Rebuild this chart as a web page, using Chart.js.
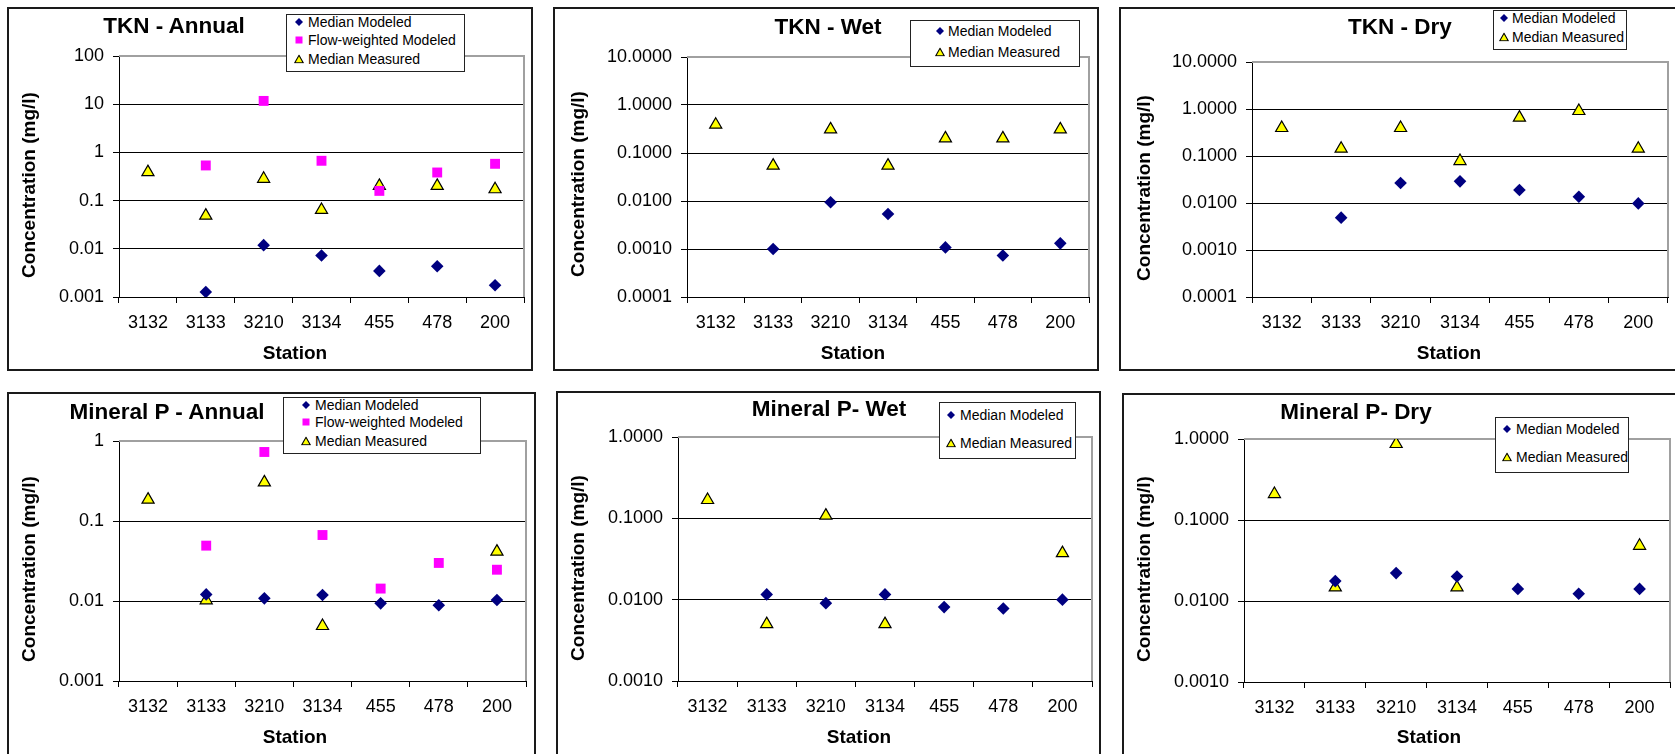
<!DOCTYPE html>
<html>
<head>
<meta charset="utf-8">
<title>TKN and Mineral P concentrations by station</title>
<script src="https://cdn.jsdelivr.net/npm/chart.js@4.4.1/dist/chart.umd.min.js"></script>
<style>
  html, body { margin: 0; padding: 0; background: #fff; overflow: hidden; }
  body { width: 1675px; height: 754px; position: relative; font-family: 'Liberation Sans', Arial, sans-serif; color: #000; }
  .frame { position: absolute; box-sizing: border-box; border: 2px solid #1a1a1a; }
  .plot { position: absolute; }
  .title { position: absolute; font-weight: bold; font-size: 22.5px; line-height: 1; white-space: nowrap; transform: translate(-50%, -50%); }
  .xtitle { position: absolute; font-weight: bold; font-size: 19px; line-height: 1; white-space: nowrap; transform: translate(-50%, -50%); }
  .ytitle { position: absolute; font-weight: bold; font-size: 19px; line-height: 1; white-space: nowrap; transform: translate(-50%, -50%) rotate(-90deg); }
  .legend { position: absolute; box-sizing: border-box; border: 1.5px solid #222; background: #fff; }
  .item { position: absolute; font-size: 14px; line-height: 1; white-space: nowrap; transform: translateY(-50%); }
  .mark { position: absolute; transform: translate(-50%, -50%); line-height: 0; }
</style>
</head>
<body>
<script>
// stations on the x axis
const stations = ['3132', '3133', '3210', '3134', '455', '478', '200'];

// TKN (mg/l)
const tknAnnualModeled = [null, 0.00127, 0.0119, 0.00726, 0.00348, 0.00436, 0.00175];
const tknAnnualFlowWeighted = [null, 0.536, 11.7, 0.67, 0.159, 0.383, 0.58];
const tknAnnualMeasured = [0.39, 0.0487, 0.283, 0.064, 0.202, 0.202, 0.172];
const tknWetModeled = [null, 0.001, 0.0094, 0.00536, 0.00108, 0.00073, 0.00131];
const tknWetMeasured = [0.389, 0.0545, 0.311, 0.0545, 0.202, 0.202, 0.311];
const tknDryModeled = [null, 0.00488, 0.0267, 0.0289, 0.0189, 0.0136, 0.0098];
const tknDryMeasured = [0.394, 0.143, 0.394, 0.078, 0.654, 0.906, 0.143];

// Mineral P (mg/l)
const minPAnnualModeled = [null, 0.0121, 0.0108, 0.0119, 0.00935, 0.00883, 0.0103];
const minPAnnualFlowWeighted = [null, 0.0492, 0.729, 0.0668, 0.0143, 0.0299, 0.0246];
const minPAnnualMeasured = [0.185, 0.0102, 0.304, 0.00487, null, null, 0.0414];
const minPWetModeled = [null, 0.0116, 0.00906, 0.0116, 0.0081, 0.0078, 0.01];
const minPWetMeasured = [0.168, 0.005, 0.108, 0.005, null, null, 0.0373];
const minPDryModeled = [null, 0.0176, 0.0221, 0.0201, 0.0141, 0.0123, 0.0141];
const minPDryMeasured = [0.209, 0.0147, 0.867, 0.0147, null, null, 0.048];

// y axis ticks (top to bottom) and their labels
const tknAnnualTicks = [100, 10, 1, 0.1, 0.01, 0.001];
const tknAnnualTickLabels = ['100', '10', '1', '0.1', '0.01', '0.001'];
const tknSeasonTicks = [10, 1, 0.1, 0.01, 0.001, 0.0001];
const tknSeasonTickLabels = ['10.0000', '1.0000', '0.1000', '0.0100', '0.0010', '0.0001'];
const minPAnnualTicks = [1, 0.1, 0.01, 0.001];
const minPAnnualTickLabels = ['1', '0.1', '0.01', '0.001'];
const minPSeasonTicks = [1, 0.1, 0.01, 0.001];
const minPSeasonTickLabels = ['1.0000', '0.1000', '0.0100', '0.0010'];

const yAxisTitle = 'Concentration (mg/l)';
const xAxisTitle = 'Station';

Chart.defaults.font.family = "'Liberation Sans', Arial, sans-serif";

const styles = {
  modeled: {pointStyle: 'rectRot', pointRadius: 6.3, pointBackgroundColor: '#000080', pointBorderColor: '#000080', pointBorderWidth: 0},
  flow: {pointStyle: 'rect', pointRadius: 7, pointBackgroundColor: '#ff00ff', pointBorderColor: '#ff00ff', pointBorderWidth: 0},
  measured: {pointStyle: 'triangle', pointRadius: 7, pointBackgroundColor: '#ffff00', pointBorderColor: '#000', pointBorderWidth: 1.2}
}

const marks = {
  modeled: '<svg width="9" height="9"><polygon points="4.5,0.5 8.5,4.5 4.5,8.5 0.5,4.5" fill="#000080"/></svg>',
  flow: '<svg width="8" height="8"><rect x="0.5" y="0.5" width="7" height="7" fill="#ff00ff"/></svg>',
  measured: '<svg width="10" height="9"><polygon points="5,0.8 9.2,8.2 0.8,8.2" fill="#ffff00" stroke="#000" stroke-width="1.1"/></svg>'
}

// gray plot border on top and right side, like the spreadsheet chart
const plotFrame = {
  id: 'plotFrame',
  beforeDatasetsDraw(chart) {
    const {ctx, chartArea: {left, top, right, bottom}} = chart;
    ctx.save();
    ctx.strokeStyle = '#a0a0a0';
    ctx.lineWidth = 2;
    ctx.beginPath();
    ctx.moveTo(left, top);
    ctx.lineTo(right, top);
    ctx.lineTo(right, bottom);
    ctx.stroke();
    ctx.restore();
  }
}

const panels = [
  {
    title: 'TKN - Annual', titleAt: [174, 26],
    frame: [7, 7, 533, 371], plot: [119, 56, 524, 297],
    yTitleAt: [28, 185], xTitleAt: [295, 352],
    ticks: tknAnnualTicks, tickLabels: tknAnnualTickLabels,
    series: [['Median Modeled', tknAnnualModeled, 'modeled'], ['Flow-weighted Modeled', tknAnnualFlowWeighted, 'flow'], ['Median Measured', tknAnnualMeasured, 'measured']],
    legendBox: [286, 14, 465, 72], legendMarkX: 299, legendTextX: 308, legendRows: [22, 40, 59]
  },
  {
    title: 'TKN - Wet', titleAt: [828, 27],
    frame: [553, 7, 1099, 371], plot: [687, 57, 1089, 297],
    yTitleAt: [577, 184], xTitleAt: [853, 352],
    ticks: tknSeasonTicks, tickLabels: tknSeasonTickLabels,
    series: [['Median Modeled', tknWetModeled, 'modeled'], ['Median Measured', tknWetMeasured, 'measured']],
    legendBox: [910, 20, 1080, 67], legendMarkX: 940, legendTextX: 948, legendRows: [31, 52]
  },
  {
    title: 'TKN - Dry', titleAt: [1400, 27],
    frame: [1119, 7, 1690, 371], plot: [1252, 62, 1668, 297],
    yTitleAt: [1143, 188], xTitleAt: [1449, 352],
    ticks: tknSeasonTicks, tickLabels: tknSeasonTickLabels,
    series: [['Median Modeled', tknDryModeled, 'modeled'], ['Median Measured', tknDryMeasured, 'measured']],
    legendBox: [1493, 10, 1627, 50], legendMarkX: 1504, legendTextX: 1512, legendRows: [18, 37]
  },
  {
    title: 'Mineral P - Annual', titleAt: [167, 412],
    frame: [7, 392, 536, 770], plot: [119, 441, 526, 681],
    yTitleAt: [28, 569], xTitleAt: [295, 736],
    ticks: minPAnnualTicks, tickLabels: minPAnnualTickLabels,
    series: [['Median Modeled', minPAnnualModeled, 'modeled'], ['Flow-weighted Modeled', minPAnnualFlowWeighted, 'flow'], ['Median Measured', minPAnnualMeasured, 'measured']],
    legendBox: [283, 397, 481, 454], legendMarkX: 306, legendTextX: 315, legendRows: [405, 422, 441]
  },
  {
    title: 'Mineral P- Wet', titleAt: [829, 409],
    frame: [556, 391, 1101, 770], plot: [678, 437, 1092, 681],
    yTitleAt: [577, 568], xTitleAt: [859, 736],
    ticks: minPSeasonTicks, tickLabels: minPSeasonTickLabels,
    series: [['Median Modeled', minPWetModeled, 'modeled'], ['Median Measured', minPWetMeasured, 'measured']],
    legendBox: [939, 402, 1076, 459], legendMarkX: 951, legendTextX: 960, legendRows: [415, 443]
  },
  {
    title: 'Mineral P- Dry', titleAt: [1356, 412],
    frame: [1122, 393, 1690, 770], plot: [1244, 439, 1670, 682],
    yTitleAt: [1143, 569], xTitleAt: [1429, 736],
    ticks: minPSeasonTicks, tickLabels: minPSeasonTickLabels,
    series: [['Median Modeled', minPDryModeled, 'modeled'], ['Median Measured', minPDryMeasured, 'measured']],
    legendBox: [1495, 417, 1629, 473], legendMarkX: 1507, legendTextX: 1516, legendRows: [429, 457]
  }
]

function place(el, x, y, w, h) {
  el.style.left = x + 'px'
  el.style.top = y + 'px'
  if (w !== undefined) el.style.width = w + 'px'
  if (h !== undefined) el.style.height = h + 'px'
  document.body.appendChild(el)
  return el
}

function textDiv(cls, text, x, y) {
  const el = document.createElement('div')
  el.className = cls
  el.textContent = text
  return place(el, x, y)
}

function makePanel(p) {
  const [fx0, fy0, fx1, fy1] = p.frame
  const [l, t, r, b] = p.plot

  const frame = document.createElement('div')
  frame.className = 'frame'
  place(frame, fx0, fy0, fx1 - fx0, fy1 - fy0)

  const box = document.createElement('div')
  box.className = 'plot'
  place(box, fx0, fy0, fx1 - fx0, fy1 - fy0)
  const canvas = document.createElement('canvas')
  box.appendChild(canvas)

  const top = p.ticks[0]
  const bottom = p.ticks[p.ticks.length - 1]

  new Chart(canvas, {
    type: 'line',
    data: {
      labels: stations,
      datasets: p.series.map(([name, data, kind]) => ({
        label: name,
        data: data,
        showLine: false,
        ...styles[kind]
      }))
    },
    options: {
      responsive: true,
      maintainAspectRatio: false,
      animation: false,
      events: [],
      layout: {padding: {left: 0, top: t - fy0, right: fx1 - r, bottom: 0}},
      plugins: {
        legend: {display: false},
        title: {display: false},
        tooltip: {enabled: false}
      },
      scales: {
        x: {
          type: 'category',
          offset: true,
          grid: {offset: true, drawOnChartArea: false, tickLength: 6, color: '#000', tickColor: '#000'},
          border: {color: '#000', width: 1},
          ticks: {color: '#000', font: {size: 18}, padding: 9, maxRotation: 0, autoSkip: false},
          afterFit: (scale) => { scale.height = fy1 - b }
        },
        y: {
          type: 'logarithmic',
          min: bottom,
          max: top,
          afterBuildTicks: (scale) => { scale.ticks = p.ticks.slice().reverse().map(v => ({value: v})) },
          afterFit: (scale) => { scale.width = l - fx0 },
          grid: {
            color: (c) => (c.tick && c.tick.value === top) ? '#a0a0a0' : '#000',
            tickColor: '#000',
            tickLength: 6,
            lineWidth: 1
          },
          border: {color: '#000', width: 1},
          ticks: {
            color: '#000',
            font: {size: 18},
            padding: 9,
            callback: (v) => p.tickLabels[p.ticks.indexOf(v)]
          }
        }
      }
    },
    plugins: [plotFrame]
  })
}

function makeLegend(p) {
  const [x0, y0, x1, y1] = p.legendBox
  const box = document.createElement('div')
  box.className = 'legend'
  place(box, x0, y0, x1 - x0, y1 - y0)
  p.series.forEach(([name, , kind], i) => {
    const y = p.legendRows[i]
    const mark = document.createElement('div')
    mark.className = 'mark'
    mark.innerHTML = marks[kind]
    place(mark, p.legendMarkX, y)
    textDiv('item', name, p.legendTextX, y)
  })
}

panels.forEach(makePanel)
panels.forEach(p => {
  makeLegend(p)
  textDiv('title', p.title, p.titleAt[0], p.titleAt[1])
  textDiv('ytitle', yAxisTitle, p.yTitleAt[0], p.yTitleAt[1])
  textDiv('xtitle', xAxisTitle, p.xTitleAt[0], p.xTitleAt[1])
})
</script>
</body>
</html>
